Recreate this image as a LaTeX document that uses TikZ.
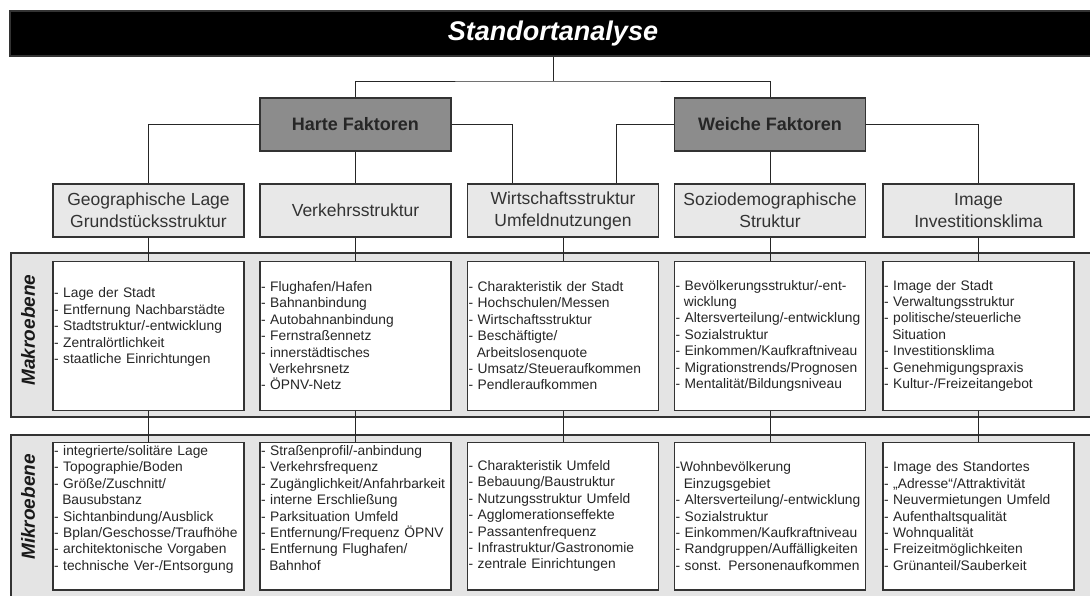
\documentclass[tikz,border=0pt]{standalone}
\usepackage{fontspec}
\setmainfont{Liberation Sans}
\usetikzlibrary{positioning,calc}
\definecolor{faktgray}{HTML}{8C8C8C}
\definecolor{catgray}{HTML}{E8E8E8}
\definecolor{bandgray}{HTML}{E4E4E4}
\definecolor{linegray}{HTML}{333333}
\tikzset{
  titlebar/.style={rectangle,fill=black,draw=linegray,line width=1.2pt,text=white,minimum width=1086pt,minimum height=45pt,font=\fontsize{27}{30}\selectfont\bfseries\itshape},
  faktblk/.style={rectangle,draw=linegray,line width=1.2pt,fill=faktgray,minimum width=191pt,minimum height=53pt,text=black!85,font=\fontsize{18}{21}\selectfont\bfseries},
  catblk/.style={rectangle,draw=linegray,line width=1.2pt,fill=catgray,minimum width=191pt,minimum height=53pt,align=center,text=black!80,font=\fontsize{17.5}{22}\selectfont},
  itemblk/.style={rectangle,draw=linegray,line width=1.2pt,fill=white,minimum width=191pt,minimum height=149pt,inner xsep=1pt,text width=189pt,align=left,text=black!85,font=\fontsize{13.8}{16.4}\selectfont},
  mikroblk/.style={itemblk,minimum height=147.5pt},
  band/.style={draw=linegray,line width=1.2pt,fill=bandgray},
  lvllbl/.style={rotate=90,text=black!90,font=\fontsize{19}{22}\selectfont\bfseries\itshape},
  conn/.style={draw=black!85,line width=1pt}
}
\newcommand{\ind}{\hspace*{0.6em}}
% empty space below a list, moves the lines up a little
\newcommand{\lift}[1][3.5pt]{\\[#1]\mbox{}}

\begin{document}
\begin{tikzpicture}[x=1pt,y=-1pt]
  \useasboundingbox (0,0) rectangle (1090,595);
  % Title
  \node[titlebar] (titel) at (553,33.5) {Standortanalyse};
  \coordinate (knot) at (553,81);

  % Bands for the two levels
  \draw[band] (11,253) rectangle (1100,417);
  \node[lvllbl] (makrolbl) at (28,330) {Makroebene};
  \draw[band] (11,435) rectangle (1100,610);
  \node[lvllbl] (mikrolbl) at (28,507) {Mikroebene};

  % Harte / Weiche Faktoren
  \node[faktblk] (hart) at (355.5,124.5) {Harte Faktoren};
  \node[faktblk] (weich) at (770,124.5) {Weiche Faktoren};

  % Categories
  \node[catblk] (geo) at (148.5,210.5) {Geographische Lage\\Grundstücksstruktur};
  \node[catblk] (verk) at (355.5,210.5) {Verkehrsstruktur};
  \node[catblk] (wirt) at (563,210.5) {Wirtschaftsstruktur\\Umfeldnutzungen};
  \node[catblk] (sozio) at (770,210.5) {Soziodemographische\\Struktur};
  \node[catblk] (image) at (978.5,210.5) {Image\\Investitionsklima};

  % Makroebene
  \node[itemblk, below=23pt of geo] (geo-ma) {- Lage der Stadt\\- Entfernung Nachbarstädte\\- Stadtstruktur/-entwicklung\\- Zentralörtlichkeit\\- staatliche Einrichtungen\lift};
  \node[itemblk, below=23pt of verk] (verk-ma) {- Flughafen/Hafen\\- Bahnanbindung\\- Autobahnanbindung\\- Fernstraßennetz\\- innerstädtisches\\\ind Verkehrsnetz\\- ÖPNV-Netz};
  \node[itemblk, below=23pt of wirt] (wirt-ma) {- Charakteristik der Stadt\\- Hochschulen/Messen\\- Wirtschaftsstruktur\\- Beschäftigte/\\\ind Arbeitslosenquote\\- Umsatz/Steueraufkommen\\- Pendleraufkommen};
  \node[itemblk, below=23pt of sozio] (sozio-ma) {- Bevölkerungsstruktur/-ent-\\\ind wicklung\\- Altersverteilung/-entwicklung\\- Sozialstruktur\\- Einkommen/Kaufkraftniveau\\- Migrationstrends/Prognosen\\- Mentalität/Bildungsniveau};
  \node[itemblk, below=23pt of image] (image-ma) {- Image der Stadt\\- Verwaltungsstruktur\\- politische/steuerliche\\\ind Situation\\- Investitionsklima\\- Genehmigungspraxis\\- Kultur-/Freizeitangebot};

  % Mikroebene
  \node[mikroblk, inner ysep=0pt, below=31pt of geo-ma] (geo-mi) {- integrierte/solitäre Lage\\- Topographie/Boden\\- Größe/Zuschnitt/\\\ind Bausubstanz\\- Sichtanbindung/Ausblick\\- Bplan/Geschosse/Traufhöhe\\- architektonische Vorgaben\\- technische Ver-/Entsorgung\lift[0pt]};
  \node[mikroblk, inner ysep=0pt, below=31pt of verk-ma] (verk-mi) {- Straßenprofil/-anbindung\\- Verkehrsfrequenz\\- Zugänglichkeit/Anfahrbarkeit\\- interne Erschließung\\- Parksituation Umfeld\\- Entfernung/Frequenz ÖPNV\\- Entfernung Flughafen/\\\ind Bahnhof\lift[0pt]};
  \node[mikroblk, below=31pt of wirt-ma] (wirt-mi) {- Charakteristik Umfeld\\- Bebauung/Baustruktur\\- Nutzungsstruktur Umfeld\\- Agglomerationseffekte\\- Passantenfrequenz\\- Infrastruktur/Gastronomie\\- zentrale Einrichtungen};
  \node[mikroblk, below=31pt of sozio-ma] (sozio-mi) {-Wohnbevölkerung\\\ind Einzugsgebiet\\- Altersverteilung/-entwicklung\\- Sozialstruktur\\- Einkommen/Kaufkraftniveau\\- Randgruppen/Auffälligkeiten\\- sonst. Personenaufkommen};
  \node[mikroblk, below=31pt of image-ma] (image-mi) {- Image des Standortes\\- „Adresse“/Attraktivität\\- Neuvermietungen Umfeld\\- Aufenthaltsqualität\\- Wohnqualität\\- Freizeitmöglichkeiten\\- Grünanteil/Sauberkeit};

  % Connections
  \draw[conn] (titel.south) -- (knot);
  \draw[conn] (hart.north) |- (knot) -| (weich.north);
  \draw[conn] (hart.west) -| (geo.north);
  \draw[conn] (hart.south) -- (verk.north);
  \draw[conn] (hart.east) -| ([xshift=-51pt]wirt.north);
  \draw[conn] (weich.west) -| ([xshift=53pt]wirt.north);
  \draw[conn] (weich.south) -- (sozio.north);
  \draw[conn] (weich.east) -| (image.north);
  \foreach \c in {geo,verk,wirt,sozio,image}
    \draw[conn] (\c.south) -- (\c-ma.north) (\c-ma.south) -- (\c-mi.north);

\end{tikzpicture}
\end{document}
